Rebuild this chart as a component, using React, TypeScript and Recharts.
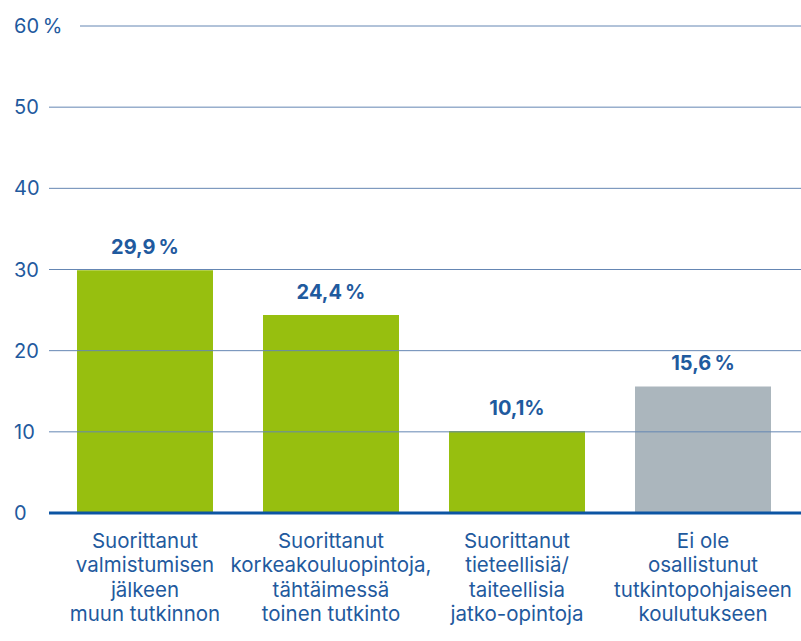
import { BarChart, Bar, XAxis, YAxis, Cell, LabelList } from 'recharts'

const categories = [
  ['Suorittanut', 'valmistumisen', 'jälkeen', 'muun tutkinnon'],
  ['Suorittanut', 'korkeakouluopintoja,', 'tähtäimessä', 'toinen tutkinto'],
  ['Suorittanut', 'tieteellisiä/', 'taiteellisia', 'jatko-opintoja'],
  ['Ei ole', 'osallistunut', 'tutkintopohjaiseen', 'koulutukseen'],
]
const values = [29.9, 24.4, 10.1, 15.6]
const valueLabels = ['29,9\u2009%', '24,4\u2009%', '10,1%', '15,6\u2009%']
const barColors = ['#97bf0f', '#97bf0f', '#97bf0f', '#abb6bd']
const yTicks = [0, 10, 20, 30, 40, 50, 60]

const data = categories.map((lines, i) => ({
  key: String(i),
  lines,
  value: values[i],
  label: valueLabels[i],
}))

const BLUE = '#1f5a9e'
const FONT = 'Inter, "Noto Sans", sans-serif'

function YTick(props: any) {
  const { y, payload } = props
  const v = payload.value
  return (
    <g>
      {v !== 0 && (
        <line x1={v === 60 ? 80 : 49} x2={801} y1={y} y2={y} stroke="#6586b3" strokeWidth={1} />
      )}
      <text x={14} y={y} dy={7} textAnchor="start" fill={BLUE} fontSize={20} fontFamily={FONT}>
        {v === 60 ? '60\u2009%' : String(v)}
      </text>
    </g>
  )
}

function XTick(props: any) {
  const { x, y, payload } = props
  const lines = data[Number(payload.value)].lines
  return (
    <text x={x} y={y + 27} textAnchor="middle" fill={BLUE} fontSize={20.5} fontFamily={FONT}>
      {lines.map((l: string, i: number) => (
        <tspan key={i} x={x} dy={i === 0 ? 0 : 24.3}>
          {l}
        </tspan>
      ))}
    </text>
  )
}

export default function App() {
  return (
    <div style={{ position: 'absolute', left: 0, top: 0, width: 801, height: 641, background: '#fff' }}>
      <BarChart
        width={801}
        height={641}
        data={data}
        margin={{ top: 26, right: 0, bottom: 0, left: 0 }}
        barCategoryGap={25}
      >
        <XAxis
          dataKey="key"
          height={128}
          tickLine={false}
          axisLine={{ stroke: '#0c55a3', strokeWidth: 3 }}
          tick={<XTick />}
          padding={{ left: 3, right: 5 }}
          interval={0}
        />
        <YAxis
          domain={[0, 60]}
          ticks={yTicks}
          width={49}
          axisLine={false}
          tickLine={false}
          tick={<YTick />}
          interval={0}
        />
        <Bar dataKey="value" isAnimationActive={false}>
          {data.map((d, i) => (
            <Cell key={d.key} fill={barColors[i]} />
          ))}
          <LabelList
            dataKey="label"
            position="top"
            offset={16}
            fill={BLUE}
            fontSize={20}
            fontWeight={700}
            fontFamily={FONT}
          />
        </Bar>
      </BarChart>
    </div>
  )
}
